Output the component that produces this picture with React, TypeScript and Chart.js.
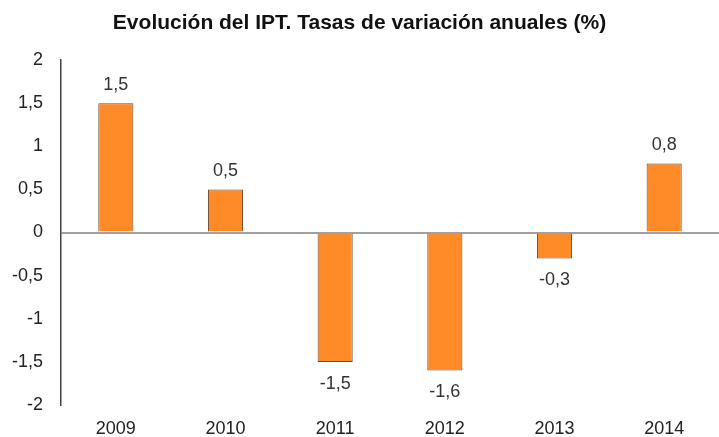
import React, { useEffect, useRef } from "react";
import { Chart, registerables } from "chart.js";

Chart.register(...registerables);

const categories = ["2009", "2010", "2011", "2012", "2013", "2014"];
const values = [1.5, 0.5, -1.5, -1.6, -0.3, 0.8];
const yMin = -2;
const yMax = 2;
const yStep = 0.5;
const titleText = "Evolución del IPT. Tasas de variación anuales (%)";

const fmt = (v: number) => String(Math.round(v * 10) / 10).replace(".", ",");
const FONT = "'Liberation Sans', Arial, sans-serif";

const valueLabels = {
  id: "valueLabels",
  afterDatasetsDraw(chart: any) {
    const ctx = chart.ctx;
    const meta = chart.getDatasetMeta(0);
    ctx.save();
    ctx.font = "18px " + FONT;
    ctx.fillStyle = "#333333";
    ctx.textAlign = "center";
    ctx.textBaseline = "middle";
    meta.data.forEach((bar: any, i: number) => {
      const v = values[i];
      const y = v >= 0 ? bar.y - 18 : bar.y + 22;
      ctx.fillText(fmt(v), bar.x, y);
    });
    ctx.restore();
  },
};

export default function App() {
  const ref = useRef<HTMLCanvasElement>(null);
  useEffect(() => {
    if (!ref.current) return;
    const chart = new Chart(ref.current, {
      type: "bar",
      data: {
        labels: categories,
        datasets: [
          {
            data: values,
            backgroundColor: "#FF8A28",
            borderColor: "#6b4a30",
            borderWidth: 1,
            barPercentage: 0.64,
            categoryPercentage: 0.5,
          },
        ],
      },
      options: {
        animation: false,
        responsive: false,
        maintainAspectRatio: false,
        layout: { padding: { left: 0, right: 0, top: 0, bottom: 0 } },
        plugins: {
          legend: { display: false },
          tooltip: { enabled: false },
          title: {
            display: true,
            text: titleText,
            color: "#111111",
            font: { family: FONT, size: 21, weight: "bold" },
            padding: { top: 11, bottom: 23.8 },
          },
        },
        scales: {
          x: {
            grid: { display: false, drawTicks: false },
            border: { display: false },
            ticks: {
              color: "#222222",
              font: { family: FONT, size: 18 },
              padding: 13,
            },
            afterFit(scale: any) {
              scale.height = 32;
            },
          },
          y: {
            min: yMin,
            max: yMax,
            grid: {
              drawTicks: false,
              color: (c: any) => (c.tick && c.tick.value === 0 ? "#a0a0a0" : "rgba(0,0,0,0)"),
              lineWidth: 2,
            },
            border: { display: true, color: "#404040", width: 1.5 },
            ticks: {
              stepSize: yStep,
              color: "#222222",
              font: { family: FONT, size: 18 },
              padding: 18,
              callback: (v: any) => fmt(Number(v)),
            },
            afterFit(scale: any) {
              scale.width = 61;
            },
          },
        },
      },
      plugins: [valueLabels],
    });
    return () => chart.destroy();
  }, []);
  return (
    <div style={{ position: "fixed", left: 0, top: 0, width: 719, height: 437, background: "#fff" }}>
      <canvas ref={ref} width={719} height={437} style={{ width: 719, height: 437 }} />
    </div>
  );
}
